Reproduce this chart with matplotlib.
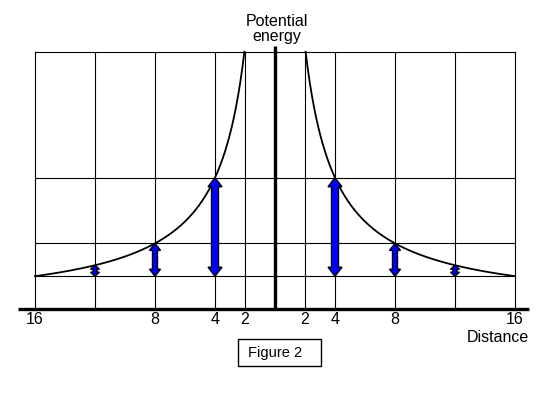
import numpy as np
import matplotlib
matplotlib.use("Agg")
from matplotlib import pyplot as plt
from matplotlib.patches import Polygon, Rectangle

plt.rcParams['font.family'] = ['Liberation Sans', 'DejaVu Sans']

# data
tick_pos = [-16, -8, -4, -2, 2, 4, 8, 16]
tick_labels = ["16", "8", "4", "2", "2", "4", "8", "16"]
grid_x = [2, 4, 8, 12, 16]
grid_y = [1 / 16, 1 / 8, 1 / 4]
arrow_r = [4, 8, 12]
base_level = 1 / 16
top_level = 0.49

# pixel sizes of the arrows (shaft width, head width, head length)
arrow_px = {4: (7, 14, 9), 8: (5, 11, 7), 12: (4, 9, 4)}
px_x = 15.0   # pixels per x unit
px_y = 525.0  # pixels per y unit

fig = plt.figure(figsize=(5.49, 3.94), dpi=100)
ax = fig.add_axes([0, 0, 1, 1])
ax.set_xlim(-275 / px_x, 274 / px_x)
ax.set_ylim(-85 / px_y, 309 / px_y)
ax.axis('off')

# grid box
for gx in grid_x:
    for s in (-1, 1):
        ax.plot([s * gx, s * gx], [0, top_level], color='black', lw=0.8)
for gy in grid_y + [top_level]:
    ax.plot([-16, 16], [gy, gy], color='black', lw=0.8)

# axes lines
ax.plot([-17.1, 16.9], [0, 0], color='black', lw=2.4, solid_capstyle='butt')
ax.plot([0, 0], [0, 0.501], color='black', lw=2.4, solid_capstyle='butt')

# potential curve 1/r
r = np.linspace(1 / top_level, 16, 400)
ax.plot(r, 1 / r, color='black', lw=1.3)
ax.plot(-r, 1 / r, color='black', lw=1.3)

# double headed arrows
for ra in arrow_r:
    sw, hw, hl = arrow_px[ra]
    sw, hw, hl = sw / 2 / px_x, hw / 2 / px_x, hl / px_y
    y0, y1 = base_level, 1 / ra
    for xc in (-ra, ra):
        pts = [(xc, y0), (xc + hw, y0 + hl), (xc + sw, y0 + hl),
               (xc + sw, y1 - hl), (xc + hw, y1 - hl), (xc, y1),
               (xc - hw, y1 - hl), (xc - sw, y1 - hl), (xc - sw, y0 + hl),
               (xc - hw, y0 + hl)]
        ax.add_patch(Polygon(pts, closed=True, fc='#0000ff', ec='black',
                             lw=1.0, zorder=5))

# tick labels
for p, lab in zip(tick_pos, tick_labels):
    ax.text(p, -3 / px_y, lab, ha='center', va='top', fontsize=11.5)

ax.text(0.1, 0.533, "Potential\nenergy", ha='center', va='center',
        fontsize=11.5, linespacing=1.0)
ax.text(16.9, -28 / px_y, "Distance", ha='right', va='center', fontsize=11.5)

# figure caption box
fig.patches.append(Rectangle((238 / 549, 28 / 394), 83 / 549, 27 / 394,
                             transform=fig.transFigure, fc='white',
                             ec='black', lw=1.0))
fig.text(248 / 549, 41.5 / 394, "Figure 2", ha='left', va='center',
         fontsize=10.5)

fig.savefig("out.png", dpi=100)
